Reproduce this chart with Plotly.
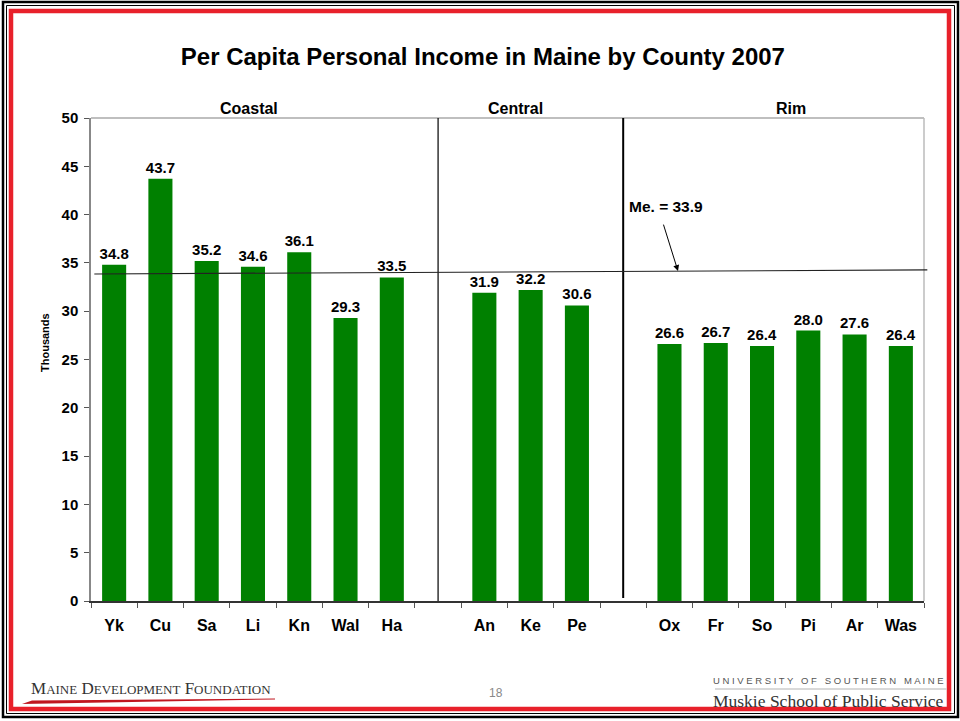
import plotly.graph_objects as go

# ---- data ----
counties = ["Yk", "Cu", "Sa", "Li", "Kn", "Wal", "Ha",
            "An", "Ke", "Pe",
            "Ox", "Fr", "So", "Pi", "Ar", "Was"]
income = [34.8, 43.7, 35.2, 34.6, 36.1, 29.3, 33.5,
          31.9, 32.2, 30.6,
          26.6, 26.7, 26.4, 28.0, 27.6, 26.4]
category_order = ["Yk", "Cu", "Sa", "Li", "Kn", "Wal", "Ha", " ",
                  "An", "Ke", "Pe", "  ",
                  "Ox", "Fr", "So", "Pi", "Ar", "Was"]
groups = ["Coastal", "Central", "Rim"]
group_centers = [0.1895, 0.51, 0.84]  # x-domain fractions
maine_mean = 33.9
mean_line_right = 34.27
y_ticks = [0, 5, 10, 15, 20, 25, 30, 35, 40, 45, 50]

FONT = "Liberation Sans, Arial, sans-serif"
SERIF = "Liberation Serif, Times New Roman, serif"

fig = go.Figure()
fig.add_trace(go.Bar(
    x=counties, y=income,
    marker=dict(color="#008000", line=dict(width=0)),
    width=0.52,
    text=[f"<b>{v:.1f}</b>" for v in income],
    textposition="outside",
    constraintext="none",
    textfont=dict(family=FONT, size=15, color="black", weight="bold"),
    cliponaxis=False,
    hoverinfo="x+y",
))

fig.update_layout(
    width=960, height=721,
    margin=dict(l=91, r=36, t=118, b=120),
    paper_bgcolor="white", plot_bgcolor="white",
    showlegend=False,
    font=dict(family=FONT, color="black"),
    title=dict(text="<b>Per Capita Personal Income in Maine by County 2007</b>",
               x=0.503, xanchor="center", y=0.921, yanchor="middle",
               font=dict(family=FONT, size=24, color="black")),
    xaxis=dict(
        type="category", categoryorder="array", categoryarray=category_order,
        range=[-0.5, len(category_order) - 0.5],
        tickson="boundaries", ticks="outside", ticklen=5, tickcolor="#555",
        ticklabelstandoff=9,
        showline=True, linecolor="#333", linewidth=1.5,
        mirror=False, showgrid=False,
        tickfont=dict(family=FONT, size=16, color="black", weight="bold"),
    ),
    yaxis=dict(
        range=[0, 50], tickvals=y_ticks, ticks="outside", ticklen=5,
        tickcolor="#555", ticklabelstandoff=3,
        showline=True, linecolor="#888", linewidth=1.5,
        showgrid=False, zeroline=False,
        tickfont=dict(family=FONT, size=15, color="black", weight="bold"),
    ),
    bargap=0.48,
)

shapes = []
# plot top and right border (gray)
shapes.append(dict(type="line", xref="paper", yref="paper", x0=0, x1=1, y0=1, y1=1,
                   line=dict(color="#aaaaaa", width=1.5)))
shapes.append(dict(type="line", xref="paper", yref="paper", x0=1, x1=1, y0=0, y1=1,
                   line=dict(color="#bbbbbb", width=1.5)))
# group separators
shapes.append(dict(type="line", xref="x", yref="paper", x0=" ", x1=" ", y0=0, y1=1,
                   line=dict(color="black", width=1.2)))
shapes.append(dict(type="line", xref="x", yref="y", x0="  ", x1="  ", y0=0.3, y1=50,
                   line=dict(color="black", width=2)))
# mean line
shapes.append(dict(type="line", xref="paper", yref="y", x0=0.004, x1=1.004,
                   y0=maine_mean - 0.05, y1=mean_line_right,
                   line=dict(color="#222", width=1.2)))
# page borders
shapes.append(dict(type="rect", xref="paper", yref="paper",
                   x0=-91/833 + 3/833, x1=1 + 34/833, y0=-(118 - 2)/483, y1=1 + 116/483,
                   line=dict(color="black", width=2.5)))
shapes.append(dict(type="rect", xref="paper", yref="paper",
                   x0=-91/833 + 6.5/833, x1=1 + 30.5/833, y0=-(118 - 5.5)/483, y1=1 + 112.5/483,
                   line=dict(color="black", width=1)))
shapes.append(dict(type="rect", xref="paper", yref="paper",
                   x0=-91/833 + 11/833, x1=1 + 25/833, y0=-(118 - 10)/483, y1=1 + 107/483,
                   line=dict(color="#e8202a", width=4.5)))
# red swoosh under left logo
shapes.append(dict(type="path", xref="paper", yref="paper",
                   path=f"M {(-91+22)/833} {-(120-17)/483} L {(275-91)/833} {-(120-21.5)/483} "
                        f"L {(275-91)/833} {-(120-22.5)/483} L {(-91+32)/833} {-(120-20.5)/483} Z",
                   fillcolor="#c0161f", line=dict(width=0)))
# gray rule under USM text
shapes.append(dict(type="line", xref="paper", yref="paper",
                   x0=(715-91)/833, x1=(947-91)/833,
                   y0=-(689-601)/483, y1=-(689-601)/483,
                   line=dict(color="#cccccc", width=1.5)))
fig.update_layout(shapes=shapes)

annotations = []
for g, cx in zip(groups, group_centers):
    annotations.append(dict(text=f"<b>{g}</b>", xref="paper", yref="paper",
                            x=cx, y=1.0, yanchor="bottom", xanchor="center",
                            showarrow=False, yshift=-1,
                            font=dict(family=FONT, size=16, color="black")))
# y-axis title
annotations.append(dict(text="<b>Thousands</b>", xref="paper", yref="paper",
                        x=(45-91)/833, y=(601-343)/483, textangle=-90,
                        xanchor="center", yanchor="middle", showarrow=False,
                        font=dict(family=FONT, size=11, color="black")))
annotations.append(dict(text=f"<b>Me. = {maine_mean}</b>", xref="paper", yref="y",
                        x=(627-91)/833, y=maine_mean, xanchor="left", yanchor="middle",
                        showarrow=False, yshift=67,
                        font=dict(family=FONT, size=15.5, color="black")))
annotations.append(dict(text="", xref="paper", yref="y",
                        x=(678-91)/833, y=34.15,
                        axref="pixel", ayref="pixel", ax=-15, ay=-48,
                        showarrow=True, arrowhead=2, arrowsize=1.2, arrowwidth=1,
                        arrowcolor="black", standoff=0))
# footer
annotations.append(dict(text="M<span style='font-size:13px'>AINE</span> D<span style='font-size:13px'>EVELOPMENT</span> F<span style='font-size:13px'>OUNDATION</span>",
                        xref="paper", yref="paper", x=(29-91)/833, y=-(688-601)/483,
                        xanchor="left", yanchor="middle", showarrow=False,
                        font=dict(family=SERIF, size=17, color="#333333")))
annotations.append(dict(text="18", xref="paper", yref="paper",
                        x=(496-91)/833, y=-(693-601)/483,
                        xanchor="center", yanchor="middle", showarrow=False,
                        font=dict(family=FONT, size=12, color="#888888")))
annotations.append(dict(text="U N I V E R S I T Y   O F   S O U T H E R N   M A I N E",
                        xref="paper", yref="paper", x=(946-91)/833, y=-(680-601)/483,
                        xanchor="right", yanchor="middle", showarrow=False,
                        font=dict(family=FONT, size=9.5, color="#555555")))
annotations.append(dict(text="Muskie School of Public Service",
                        xref="paper", yref="paper", x=(946-91)/833, y=-(701-601)/483,
                        xanchor="right", yanchor="middle", showarrow=False,
                        font=dict(family=SERIF, size=17.5, color="#333333")))
fig.update_layout(annotations=annotations)

fig.write_html("out.html", config={"displayModeBar": False},
               post_script="document.body.style.margin='0';document.body.style.overflow='hidden';")
